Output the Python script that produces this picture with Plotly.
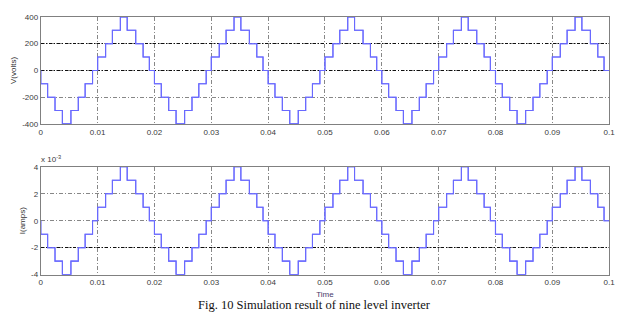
import plotly.graph_objects as go

# One 50 Hz cycle of the nine-level staircase: switching instants (s) and step index
cycle_edges = [0.0, 0.0012, 0.0025, 0.0038, 0.0053, 0.0066, 0.0078, 0.0091,
               0.0100, 0.0114, 0.0126, 0.0140, 0.0152, 0.0167, 0.0180, 0.0191]
voltage_levels = [-100, -200, -300, -400, -300, -200, -100, 0,
                  100, 200, 300, 400, 300, 200, 100, 0]          # volts
current_levels = [-1, -2, -3, -4, -3, -2, -1, 0,
                  1, 2, 3, 4, 3, 2, 1, 0]                        # x 1e-3 A
period = 0.02
n_cycles = 5
t_end = 0.1

x_ticks = [0, 0.01, 0.02, 0.03, 0.04, 0.05, 0.06, 0.07, 0.08, 0.09, 0.1]
v_ticks = [-400, -200, 0, 200, 400]
i_ticks = [-4, -2, 0, 2, 4]

# build the step samples over all cycles
t = [0.0]
v = [0]
i = [0]
for k in range(n_cycles):
    for e, lv, li in zip(cycle_edges, voltage_levels, current_levels):
        t.append(k * period + e)
        v.append(lv)
        i.append(li)
t.append(t_end)
v.append(v[-1])
i.append(i[-1])

LINE = "rgb(105,105,255)"
GRID = "rgb(135,135,135)"
DARK = "rgb(15,15,15)"
FRAME = "rgb(128,128,128)"
DASH = "4px,2px,1px,2px"
TICKFONT = dict(family="Liberation Sans, Arial", size=8, color="#3a3a3a")

fig = go.Figure()
fig.add_trace(go.Scatter(x=t, y=v, mode="lines", line=dict(color=LINE, width=1.1, shape="hv"),
                         xaxis="x", yaxis="y", showlegend=False, hoverinfo="skip"))
fig.add_trace(go.Scatter(x=t, y=i, mode="lines", line=dict(color=LINE, width=1.1, shape="hv"),
                         xaxis="x2", yaxis="y2", showlegend=False, hoverinfo="skip"))

xdom = [39.3 / 628, 615 / 628]
top_dom = [1 - 123.3 / 328, 1 - 13.3 / 328]
bot_dom = [1 - 278.3 / 328, 1 - 167.3 / 328]


def xaxis_cfg(anchor):
    return dict(domain=xdom, anchor=anchor, range=[0, t_end], tickvals=x_ticks,
                ticktext=[str(x) for x in x_ticks], tickfont=TICKFONT,
                showgrid=True, gridcolor=GRID, griddash=DASH, gridwidth=1,
                showline=True, linecolor=FRAME, linewidth=1, mirror=True,
                zeroline=False, ticks="", fixedrange=True)


def yaxis_cfg(anchor, dom, rng, ticks, title):
    return dict(domain=dom, anchor=anchor, range=rng, tickvals=ticks,
                ticktext=[str(y) for y in ticks], tickfont=TICKFONT,
                showgrid=True, gridcolor=GRID, griddash=DASH, gridwidth=1,
                showline=True, linecolor=FRAME, linewidth=1, mirror=True,
                zeroline=False, ticks="", fixedrange=True,
                title=dict(text=title, font=dict(family="Liberation Sans, Arial", size=8, color="#333"),
                           standoff=4))


# darker grid lines drawn by overlay axes
def overlay_cfg(over, dom, rng, dark_vals):
    return dict(domain=dom, overlaying=over, anchor="free", position=0, range=rng,
                tickvals=dark_vals, showticklabels=False, showgrid=True,
                gridcolor=DARK, griddash="3px,2px,1px,2px", gridwidth=1, zeroline=False,
                showline=False, ticks="", fixedrange=True)


fig.update_layout(
    width=628, height=328,
    margin=dict(l=0, r=0, t=0, b=0),
    paper_bgcolor="white", plot_bgcolor="white",
    xaxis=xaxis_cfg("y"),
    yaxis=yaxis_cfg("x", top_dom, [-400, 400], v_ticks, "V(volts)"),
    xaxis2=xaxis_cfg("y2"),
    yaxis2=yaxis_cfg("x2", bot_dom, [-4, 4], i_ticks, "I(amps)"),
    yaxis3=overlay_cfg("y", top_dom, [-400, 400], [0, 200]),
    yaxis4=overlay_cfg("y2", bot_dom, [-4, 4], [-2]),
)
fig.update_layout(xaxis2_title=dict(text="Time", font=dict(family="Liberation Sans, Arial", size=8, color="#4a3a6a"),
                                    standoff=5))

# line traces on the overlay axes so their grids are rendered
fig.add_trace(go.Scatter(x=t, y=v, mode="lines", line=dict(color=LINE, width=1.1, shape="hv"),
                         xaxis="x", yaxis="y3", showlegend=False, hoverinfo="skip"))
fig.add_trace(go.Scatter(x=t, y=i, mode="lines", line=dict(color=LINE, width=1.1, shape="hv"),
                         xaxis="x2", yaxis="y4", showlegend=False, hoverinfo="skip"))

fig.add_annotation(text="x 10<sup>-3</sup>", x=xdom[0], y=bot_dom[1], xref="paper", yref="paper",
                   xanchor="left", yanchor="bottom", showarrow=False, yshift=1, xshift=-2,
                   font=dict(family="Liberation Sans, Arial", size=8, color="#3a3a3a"))
fig.add_annotation(text="Fig. 10 Simulation result of nine level inverter", x=317 / 628, y=1 - 309 / 328,
                   xref="paper", yref="paper", xanchor="center", yanchor="middle", showarrow=False,
                   font=dict(family="Liberation Serif, Times New Roman", size=12.5, color="#111"))

fig.write_html("out.html")
